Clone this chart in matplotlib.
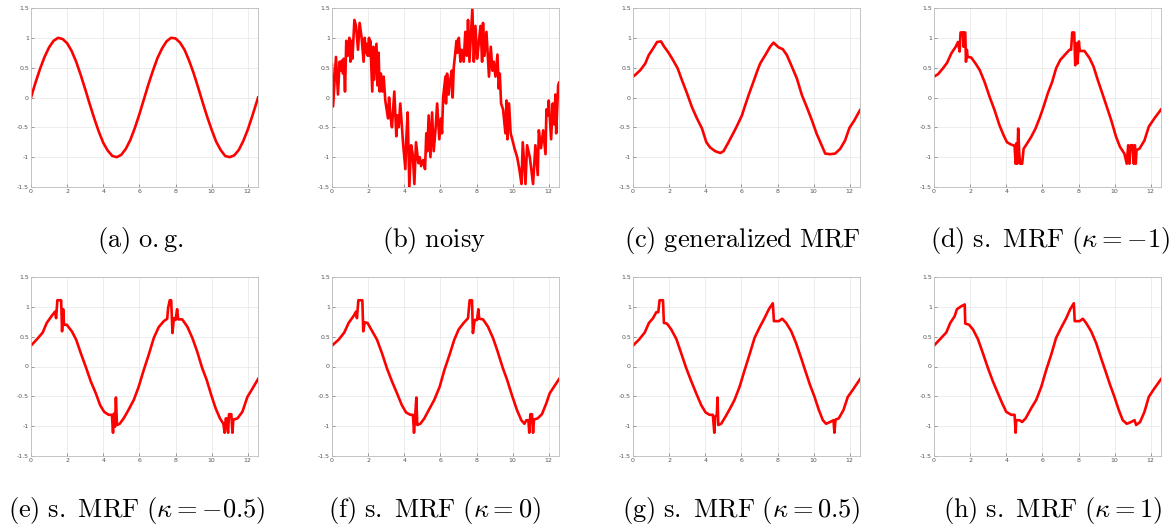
import matplotlib
matplotlib.use("Agg")
import matplotlib.pyplot as plt
import numpy as np

plt.rcParams['mathtext.fontset'] = 'cm'

# (a) original signal
og_x = [0, 0.25, 0.5, 0.75, 1, 1.25, 1.5, 1.75, 2, 2.25, 2.5, 2.75, 3, 3.25, 3.5, 3.75,
        4, 4.25, 4.5, 4.75, 5, 5.25, 5.5, 5.75, 6, 6.25, 6.5, 6.75, 7, 7.25, 7.5, 7.75,
        8, 8.25, 8.5, 8.75, 9, 9.25, 9.5, 9.75, 10, 10.25, 10.5, 10.75, 11, 11.25, 11.5,
        11.75, 12, 12.25, 12.5, 12.57]
og_y = [0, .25, .48, .68, .84, .95, 1.0, .98, .91, .78, .60, .38, .14, -.11, -.35, -.57,
        -.76, -.89, -.98, -1.0, -.96, -.86, -.71, -.51, -.28, -.03, .22, .45, .66, .82, .94, 1.0,
        .99, .92, .80, .62, .41, .17, -.08, -.32, -.54, -.74, -.88, -.98, -1.0, -.97, -.88,
        -.73, -.54, -.31, -.07, 0]

# (b) noisy signal
noisy_x = [0.00, 0.06, 0.22, 0.33, 0.42, 0.50, 0.55, 0.61, 0.65, 0.72, 0.79, 0.87, 0.96, 1.02,
           1.07, 1.13, 1.24, 1.33, 1.44, 1.53, 1.64, 1.75, 1.81, 1.86, 1.90, 1.98, 2.05, 2.09,
           2.12, 2.23, 2.29, 2.34, 2.46, 2.53, 2.58, 2.64, 2.71, 2.79, 2.86, 2.95, 3.10, 3.16,
           3.23, 3.32, 3.45, 3.56, 3.62, 3.69, 3.78, 3.93, 4.06, 4.12, 4.19, 4.28, 4.38, 4.47,
           4.56, 4.65, 4.78, 4.86, 4.93, 5.04, 5.15, 5.22, 5.28, 5.35, 5.45, 5.54, 5.63, 5.74,
           5.82, 5.94, 6.04, 6.09, 6.15, 6.28, 6.31, 6.37, 6.46, 6.55, 6.63, 6.68, 6.74, 6.89,
           6.94, 7.02, 7.11, 7.18, 7.29, 7.38, 7.46, 7.53, 7.61, 7.77, 7.85, 7.94, 8.03, 8.12,
           8.22, 8.31, 8.36, 8.44, 8.55, 8.69, 8.79, 8.88, 8.95, 9.05, 9.16, 9.23, 9.29, 9.36,
           9.47, 9.60, 9.66, 9.71, 9.80, 9.89, 10.02, 10.10, 10.25, 10.37, 10.49, 10.56, 10.71,
           10.80, 10.95, 11.13, 11.26, 11.39, 11.45, 11.57, 11.69, 11.82, 11.87, 11.94, 12.00,
           12.13, 12.22, 12.29, 12.37, 12.41, 12.52, 12.57]
noisy_y = [0.55, -0.15, 0.68, 0.05, 0.60, 0.45, 0.62, 0.40, 0.65, 0.10, 0.95, 0.70, 1.00, 0.60,
           0.95, 0.65, 1.30, 1.20, 0.80, 1.25, 1.00, 0.60, 1.00, 0.75, 0.90, 0.70, 1.00, 0.70,
           0.95, 0.10, 0.85, 0.30, 0.90, 0.20, 0.75, 0.10, 0.40, 0.10, 0.35, -0.05, -0.35, 0.00,
           -0.30, -0.50, 0.10, -0.65, -0.30, -0.50, -0.10, -0.75, -1.20, -0.65, -0.25, -1.50, -0.80,
           -0.95, -1.45, -0.75, -1.10, -1.00, -1.15, -1.05, -1.20, -0.60, -0.90, -0.30, -1.00,
           -0.25, -0.90, -0.50, -0.10, -0.70, -0.35, -0.60, 0.00, 0.35, -0.10, 0.40, 0.05, 0.30,
           0.45, 0.00, 0.50, 0.95, 0.75, 1.00, 0.60, 0.80, 0.60, 1.10, 0.70, 1.30, 0.60, 1.50,
           0.60, 1.20, 0.65, 0.90, 1.20, 0.60, 1.25, 0.70, 1.10, 0.35, 0.85, 0.45, 0.60, 0.35,
           0.72, 0.15, 0.40, -0.10, -0.20, -0.60, -0.05, -0.70, -0.10, -0.60, -0.75, -0.85,
           -1.00, -1.20, -1.45, -0.75, -1.45, -0.80, -1.00, -1.45, -0.80, -1.30, -0.55, -0.85,
           -0.55, -0.95, -0.20, -0.30, -0.05, -0.70, -0.10, -0.45, 0.05, -0.60, 0.20, 0.25]

# (c) generalized MRF
gen_x = [0, 0.13, 0.41, 0.68, 0.87, 1.11, 1.33, 1.55, 1.73, 1.97, 2.21, 2.47, 2.71, 2.99, 3.26,
         3.54, 3.82, 4.06, 4.28, 4.55, 4.83, 5.01, 5.25, 5.53, 5.75, 6.03, 6.21, 6.40, 6.64, 6.86,
         7.04, 7.32, 7.59, 7.78, 8.06, 8.29, 8.52, 8.79, 9.07, 9.35, 9.62, 9.90, 10.17, 10.40,
         10.64, 10.91, 11.19, 11.47, 11.74, 11.98, 12.24, 12.57]
gen_y = [0.35, 0.38, 0.46, 0.57, 0.71, 0.82, 0.93, 0.94, 0.85, 0.75, 0.63, 0.49, 0.29, 0.07, -0.16,
         -0.35, -0.52, -0.75, -0.84, -0.90, -0.93, -0.90, -0.77, -0.61, -0.48, -0.30, -0.13, 0.04,
         0.24, 0.43, 0.57, 0.71, 0.85, 0.92, 0.84, 0.81, 0.71, 0.52, 0.32, 0.04, -0.16, -0.38,
         -0.61, -0.77, -0.94, -0.95, -0.94, -0.86, -0.72, -0.51, -0.39, -0.21]

# (d) s. MRF, kappa = -1
km1_x = [0, 0.22, 0.50, 0.72, 0.96, 1.20, 1.33, 1.42, 1.47, 1.60, 1.64, 1.68, 1.73, 1.77, 1.82,
         1.86, 2.06, 2.30, 2.53, 2.80, 3.08, 3.35, 3.63, 3.85, 4.04, 4.28, 4.46, 4.52, 4.55, 4.61,
         4.66, 4.72, 4.77, 4.88, 4.96, 5.11, 5.38, 5.62, 5.84, 6.06, 6.30, 6.54, 6.76, 6.99, 7.32,
         7.50, 7.59, 7.65, 7.76, 7.82, 7.87, 7.94, 8.02, 8.07, 8.33, 8.61, 8.83, 9.07, 9.35, 9.57,
         9.81, 10.08, 10.30, 10.54, 10.67, 10.75, 10.82, 10.89, 11.00, 11.06, 11.12, 11.17, 11.21,
         11.37, 11.65, 11.89, 12.20, 12.57]
km1_y = [0.35, 0.39, 0.49, 0.58, 0.74, 0.85, 0.93, 0.77, 1.09, 1.09, 0.85, 1.09, 1.09, 0.60, 0.80,
         0.68, 0.67, 0.57, 0.46, 0.26, 0.01, -0.21, -0.47, -0.63, -0.75, -0.79, -0.81, -1.11, -0.77,
         -1.11, -0.52, -0.94, -1.11, -1.11, -0.86, -0.79, -0.66, -0.52, -0.35, -0.16, 0.07, 0.26,
         0.49, 0.63, 0.74, 0.80, 0.80, 1.09, 1.09, 0.54, 0.91, 0.57, 0.94, 0.78, 0.78, 0.66, 0.52,
         0.29, 0.04, -0.16, -0.38, -0.66, -0.83, -0.94, -1.11, -0.80, -1.11, -0.80, -0.80, -1.11,
         -0.80, -1.11, -0.88, -0.86, -0.72, -0.49, -0.35, -0.20]

# (e) s. MRF, kappa = -0.5
km05_x = [0, 0.31, 0.65, 0.87, 1.15, 1.33, 1.39, 1.46, 1.67, 1.72, 1.78, 1.83, 1.98, 2.26, 2.50,
          2.76, 3.06, 3.31, 3.59, 3.83, 4.05, 4.30, 4.48, 4.54, 4.59, 4.65, 4.70, 4.76, 4.91, 5.13,
          5.41, 5.69, 5.96, 6.24, 6.52, 6.80, 7.07, 7.35, 7.54, 7.59, 7.68, 7.76, 7.83, 7.91, 8.00,
          8.09, 8.15, 8.37, 8.65, 8.93, 9.20, 9.48, 9.72, 9.98, 10.22, 10.46, 10.65, 10.72, 10.78,
          10.83, 10.91, 10.96, 11.09, 11.15, 11.20, 11.43, 11.70, 11.98, 12.26, 12.57]
km05_y = [0.35, 0.45, 0.57, 0.73, 0.85, 0.92, 0.81, 1.11, 1.11, 0.59, 0.96, 0.70, 0.70, 0.59, 0.45,
          0.22, -0.03, -0.25, -0.45, -0.65, -0.76, -0.81, -0.81, -1.11, -0.79, -1.01, -0.52, -0.98,
          -0.96, -0.87, -0.72, -0.56, -0.34, -0.06, 0.20, 0.48, 0.66, 0.76, 0.80, 0.98, 1.11, 1.11,
          0.56, 0.81, 0.78, 0.96, 0.79, 0.79, 0.67, 0.48, 0.25, -0.03, -0.22, -0.48, -0.70, -0.87,
          -0.96, -1.11, -0.87, -0.87, -1.11, -0.80, -0.80, -1.11, -0.89, -0.87, -0.76, -0.51, -0.37,
          -0.21]

# (f) s. MRF, kappa = 0
k0_x = [0, 0.37, 0.68, 0.92, 1.20, 1.33, 1.38, 1.46, 1.68, 1.73, 1.81, 1.97, 2.21, 2.49, 2.77,
        3.04, 3.32, 3.60, 3.87, 4.10, 4.34, 4.48, 4.54, 4.61, 4.67, 4.72, 4.89, 5.11, 5.41, 5.66,
        5.96, 6.22, 6.51, 6.77, 7.01, 7.29, 7.53, 7.62, 7.75, 7.80, 7.90, 8.03, 8.10, 8.15, 8.36,
        8.63, 8.91, 9.17, 9.46, 9.69, 9.96, 10.24, 10.48, 10.65, 10.76, 10.87, 10.92, 10.98, 11.07,
        11.13, 11.18, 11.38, 11.62, 11.86, 12.05, 12.31, 12.57]
k0_y = [0.35, 0.45, 0.57, 0.73, 0.85, 0.92, 0.81, 1.11, 1.11, 0.59, 0.74, 0.73, 0.60, 0.45, 0.22,
        -0.03, -0.25, -0.45, -0.65, -0.77, -0.81, -0.81, -1.11, -0.81, -0.52, -0.98, -0.96, -0.87,
        -0.70, -0.56, -0.34, -0.06, 0.20, 0.45, 0.62, 0.73, 0.81, 1.11, 1.11, 0.56, 0.78, 0.78,
        0.96, 0.80, 0.79, 0.67, 0.48, 0.25, -0.03, -0.22, -0.48, -0.73, -0.90, -0.96, -0.90, -0.90,
        -1.11, -0.80, -0.80, -1.11, -0.89, -0.87, -0.80, -0.62, -0.45, -0.33, -0.21]

# (g) s. MRF, kappa = 0.5
k05_x = [0, 0.33, 0.65, 0.88, 1.11, 1.29, 1.40, 1.47, 1.66, 1.71, 1.88, 2.12, 2.40, 2.67, 2.95,
         3.23, 3.50, 3.78, 4.02, 4.24, 4.42, 4.50, 4.55, 4.64, 4.68, 4.72, 4.88, 5.12, 5.38, 5.62,
         5.90, 6.18, 6.45, 6.73, 7.00, 7.28, 7.52, 7.74, 7.80, 8.07, 8.26, 8.48, 8.76, 9.03, 9.31,
         9.58, 9.80, 10.05, 10.29, 10.51, 10.69, 10.91, 11.10, 11.15, 11.21, 11.39, 11.65, 11.89,
         12.17, 12.57]
k05_y = [0.35, 0.45, 0.57, 0.73, 0.81, 0.91, 0.91, 1.11, 1.11, 0.73, 0.72, 0.62, 0.46, 0.22, -0.03,
         -0.25, -0.45, -0.65, -0.77, -0.81, -0.81, -1.11, -0.84, -0.81, -0.52, -0.98, -0.96, -0.84,
         -0.70, -0.56, -0.34, -0.06, 0.20, 0.48, 0.65, 0.81, 0.96, 1.06, 0.76, 0.76, 0.80, 0.73,
         0.59, 0.39, 0.14, -0.11, -0.31, -0.51, -0.73, -0.90, -0.96, -0.93, -0.90, -1.11, -0.89,
         -0.87, -0.73, -0.51, -0.39, -0.21]

# (h) s. MRF, kappa = 1
k1_x = [0, 0.31, 0.68, 0.90, 1.14, 1.27, 1.51, 1.70, 1.73, 1.94, 2.16, 2.43, 2.71, 2.99, 3.26,
        3.54, 3.78, 4.00, 4.28, 4.46, 4.52, 4.55, 4.74, 4.88, 5.07, 5.38, 5.66, 5.94, 6.21, 6.49,
        6.76, 7.04, 7.32, 7.54, 7.74, 7.79, 8.06, 8.24, 8.42, 8.70, 8.98, 9.25, 9.53, 9.75, 9.99,
        10.23, 10.45, 10.67, 10.91, 11.10, 11.19, 11.41, 11.65, 11.89, 12.15, 12.57]
k1_y = [0.35, 0.45, 0.57, 0.73, 0.84, 0.96, 1.01, 1.04, 0.72, 0.70, 0.62, 0.46, 0.22, -0.03, -0.25,
        -0.45, -0.62, -0.76, -0.81, -0.81, -1.11, -0.90, -0.90, -0.93, -0.87, -0.70, -0.56, -0.34,
        -0.06, 0.20, 0.48, 0.65, 0.81, 0.96, 1.06, 0.76, 0.76, 0.80, 0.73, 0.59, 0.39, 0.14, -0.11,
        -0.31, -0.51, -0.73, -0.90, -0.96, -0.93, -0.90, -0.98, -0.93, -0.76, -0.51, -0.39, -0.21]

series = [(og_x, og_y), (noisy_x, noisy_y), (gen_x, gen_y), (km1_x, km1_y),
          (km05_x, km05_y), (k0_x, k0_y), (k05_x, k05_y), (k1_x, k1_y)]
captions = [r"$\mathrm{(a)\ o.g.}$", r"$\mathrm{(b)\ noisy}$",
            r"$\mathrm{(c)\ generalized\ MRF}$", r"$\mathrm{(d)\ s.\ MRF}\ (\kappa=-1)$",
            r"$\mathrm{(e)\ s.\ MRF}\ (\kappa=-0.5)$", r"$\mathrm{(f)\ s.\ MRF}\ (\kappa=0)$",
            r"$\mathrm{(g)\ s.\ MRF}\ (\kappa=0.5)$", r"$\mathrm{(h)\ s.\ MRF}\ (\kappa=1)$"]

W, H = 1172, 529
fig = plt.figure(figsize=(W / 100, H / 100), dpi=100)

lefts = [31, 332, 633, 934]
tops = [8, 277]
cap_x = [140, 434, 742, 1050, 137, 434, 741, 1053]
cap_y = [240, 510]

for i, (xs, ys) in enumerate(series):
    row, col = divmod(i, 4)
    ax = fig.add_axes([lefts[col] / W, 1 - (tops[row] + 179) / H, 227 / W, 179 / H])
    ax.plot(xs, ys, color='red', lw=1.9)
    ax.set_xlim(0, 4 * np.pi)
    ax.set_ylim(-1.5, 1.5)
    ax.set_xticks([0, 2, 4, 6, 8, 10, 12])
    ax.set_yticks([-1.5, -1, -0.5, 0, 0.5, 1, 1.5])
    ax.set_yticklabels(['-1.5', '-1', '-0.5', '0', '0.5', '1', '1.5'])
    ax.tick_params(labelsize=4.5, colors='#555555', direction='in', length=2, width=0.4, pad=1.5)
    ax.grid(True, color='#e6e6e6', lw=0.5)
    for s in ax.spines.values():
        s.set_color('#bbbbbb')
        s.set_linewidth(0.6)
    fig.text(cap_x[i] / W, 1 - cap_y[row] / H, captions[i], fontsize=19,
             ha='center', va='center')

fig.savefig('out.png', dpi=100)
